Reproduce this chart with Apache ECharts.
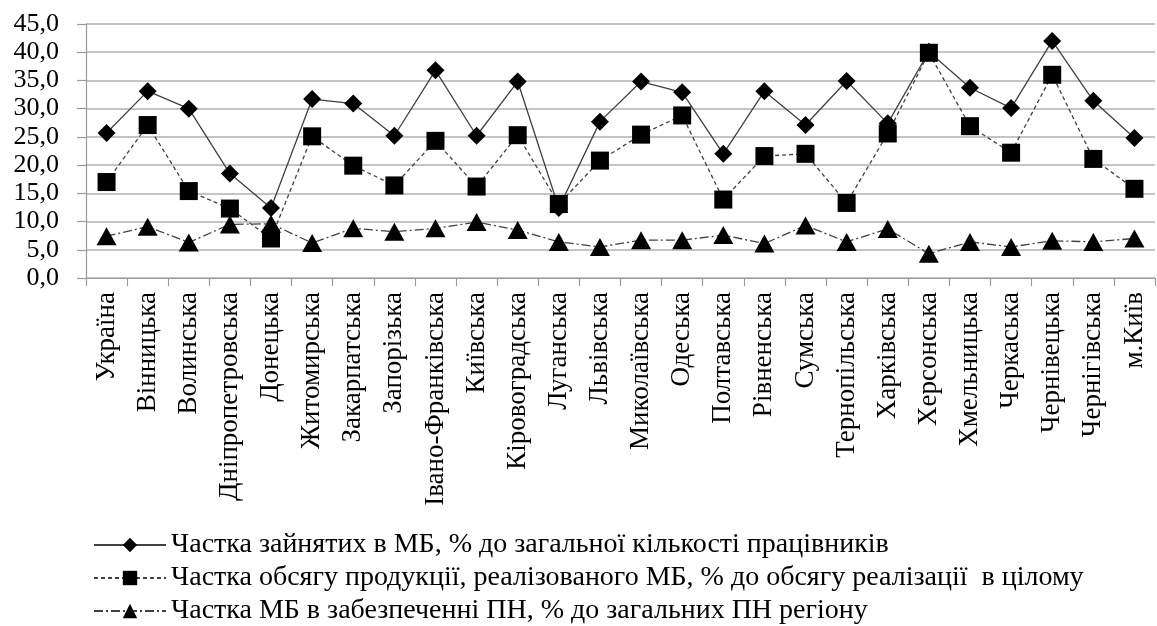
<!DOCTYPE html>
<html>
<head>
<meta charset="utf-8">
<script src="https://cdn.jsdelivr.net/npm/echarts@6/dist/echarts.min.js"></script>
<style>
html,body{margin:0;padding:0;background:#fff;}
#chart{width:1157px;height:626px;}
</style>
</head>
<body>
<div id="chart"></div>
<script>
var categories = ['Україна','Вінницька','Волинська','Дніпропетровська','Донецька','Житомирська','Закарпатська','Запорізька','Івано-Франківська','Київська','Кіровоградська','Луганська','Львівська','Миколаївська','Одеська','Полтавська','Рівненська','Сумська','Тернопільська','Харківська','Херсонська','Хмельницька','Черкаська','Чернівецька','Чернігівська','м.Київ'];

var seriesNames = [
  'Частка зайнятих в МБ, % до загальної кількості працівників',
  'Частка обсягу продукції, реалізованого МБ, % до обсягу реалізації  в цілому',
  'Частка МБ в забезпеченні ПН, % до загальних ПН регіону'
];

var employed = [25.7,33.1,30.0,18.5,12.4,31.7,30.9,25.2,36.8,25.2,34.8,12.4,27.7,34.8,32.9,22.0,33.1,27.1,34.9,27.4,40.1,33.7,30.1,42.0,31.4,24.8];
var sales    = [17.0,27.1,15.4,12.3,7.0,25.1,19.9,16.4,24.3,16.2,25.3,13.1,20.8,25.4,28.8,13.9,21.6,22.0,13.3,25.6,39.9,26.9,22.2,36.0,21.1,15.8];
var jobs     = [7.4,9.1,6.3,9.5,9.6,6.2,8.8,8.2,8.8,9.9,8.5,6.4,5.5,6.7,6.7,7.6,6.1,9.3,6.4,8.7,4.3,6.4,5.5,6.6,6.4,7.0];

var yMin = 0, yMax = 45, yStep = 5;

var chart = echarts.init(document.getElementById('chart'), null, {renderer:'canvas'});
var serif = '"Liberation Serif", "DejaVu Serif", serif';
var lineColor = '#404040';
chart.setOption({
  animation: false,
  backgroundColor: '#ffffff',
  grid: {left: 86, right: 2, top: 24, bottom: 348, containLabel: false},
  legend: {
    orient: 'vertical',
    left: 93,
    top: 531,
    height: 120,
    padding: 0,
    itemWidth: 72,
    itemHeight: 18,
    itemGap: 5,
    textStyle: {fontFamily: serif, fontSize: 28, color: '#000'},
    data: seriesNames
  },
  xAxis: {
    type: 'category',
    data: categories,
    boundaryGap: true,
    axisLine: {lineStyle: {color: '#9a9a9a', width: 1.2}},
    axisTick: {show: true, alignWithLabel: false, length: 8, lineStyle: {color: '#9a9a9a', width: 1.2}},
    axisLabel: {rotate: 90, interval: 0, margin: 14, fontFamily: serif, fontSize: 27, color: '#000'}
  },
  yAxis: {
    type: 'value',
    min: yMin, max: yMax, interval: yStep,
    axisLine: {show: true, lineStyle: {color: '#9a9a9a', width: 1.2}},
    axisTick: {show: true, length: 9, lineStyle: {color: '#9a9a9a', width: 1.2}},
    splitLine: {lineStyle: {color: '#b0b0b0', width: 1.5}},
    axisLabel: {margin: 27, fontFamily: serif, fontSize: 26, color: '#000',
      formatter: function(v){ return v.toFixed(1).replace('.', ','); }}
  },
  series: [
    {
      name: seriesNames[0], type: 'line', data: employed,
      symbol: 'diamond', symbolSize: 18,
      itemStyle: {color: '#000'},
      lineStyle: {color: lineColor, width: 1.3, type: 'solid'}
    },
    {
      name: seriesNames[1], type: 'line', data: sales,
      symbol: 'rect', symbolSize: 18,
      itemStyle: {color: '#000'},
      lineStyle: {color: lineColor, width: 1.3, type: [4, 3]}
    },
    {
      name: seriesNames[2], type: 'line', data: jobs,
      symbol: 'triangle', symbolSize: [20, 18],
      itemStyle: {color: '#000'},
      lineStyle: {color: lineColor, width: 1.3, type: [9, 3, 2, 3]}
    }
  ]
});
</script>
</body>
</html>
